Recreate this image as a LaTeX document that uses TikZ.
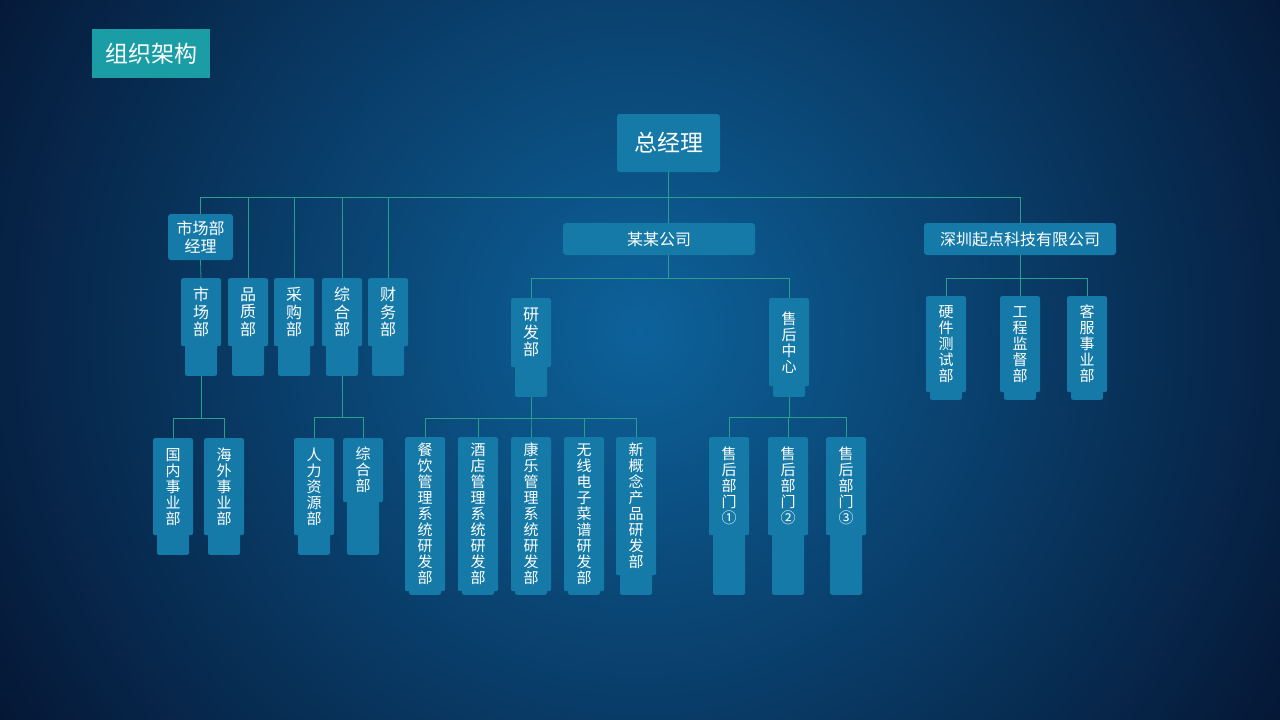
\documentclass[tikz,border=0pt]{standalone}
\usepackage{fontspec}
\setmainfont{Noto Sans CJK SC}
\usepackage{tikz}
\usetikzlibrary{positioning,calc}

\definecolor{bgin}{RGB}{13,98,155}
\definecolor{bgout}{RGB}{5,22,52}
\definecolor{boxblue}{RGB}{22,122,168}
\definecolor{titleteal}{RGB}{26,157,165}
\definecolor{linkgreen}{RGB}{42,160,140}

\tikzset{
  dept/.style={fill=boxblue, rounded corners=2pt, minimum width=40pt, inner sep=0pt,
    text=white, align=center, font=\fontsize{15}{16}\selectfont},
  big/.style={font=\fontsize{16}{17.5}\selectfont},
  foot/.style={fill=boxblue, rounded corners=2pt, minimum width=32pt, inner sep=0pt},
  hbox/.style={fill=boxblue, rounded corners=3pt, inner sep=0pt, text=white, align=center},
  link/.style={draw=linkgreen, line width=0.8pt}
}
\newcommand\deptbox[7][]{%
  \node[foot, anchor=south, minimum height=#6-#5+6] (#2-f) at (#3,#6) {};
  \node[dept, #1, anchor=north, minimum height=#5-#4] (#2) at (#3,#4) {#7};
}

\begin{document}
\begin{tikzpicture}[x=1pt,y=-1pt]
        \useasboundingbox (0,0) rectangle (1280,720);
        \fill[bgout] (0,0) rectangle (1280,720);
        \begin{scope}
          \clip (0,0) rectangle (1280,720);
          \shade[inner color=bgin, outer color=bgout] (640,330) circle (760);
        \end{scope}

        \node[fill=titleteal, minimum width=118pt, minimum height=49pt, inner sep=0pt,
          text=white, font=\fontsize{23}{23}\selectfont] (title) at (151,53.5) {组织架构};

        \node[hbox, minimum width=103pt, minimum height=58pt,
          font=\fontsize{23}{23}\selectfont] (gm) at (668.5,143) {总经理};
        \node[hbox, minimum width=65pt, minimum height=46pt,
          font=\fontsize{16}{18}\selectfont] (mgr) at (200.5,237) {市场部\\经理};
        \node[hbox, minimum width=192pt, minimum height=32pt,
          font=\fontsize{16}{16}\selectfont] (co) at (659,239) {某某公司};
        \node[hbox, minimum width=192pt, minimum height=32pt,
          font=\fontsize{16}{16}\selectfont] (sz) at (1020,239) {深圳起点科技有限公司};

        \deptbox[big]{sc}{201}{278}{346}{376}{市\\场\\部}
        \deptbox[big]{pz}{248}{278}{346}{376}{品\\质\\部}
        \deptbox[big]{cg}{294}{278}{346}{376}{采\\购\\部}
        \deptbox[big]{zh}{342}{278}{346}{376}{综\\合\\部}
        \deptbox[big]{cw}{388}{278}{346}{376}{财\\务\\部}
        \deptbox{gn}{173}{438}{535}{555}{国\\内\\事\\业\\部}
        \deptbox{hw}{224}{438}{535}{555}{海\\外\\事\\业\\部}
        \deptbox{rl}{314}{438}{535}{555}{人\\力\\资\\源\\部}
        \deptbox{zhb}{363}{438}{502}{555}{综\\合\\部}

        \deptbox[big]{rd}{531}{298}{367}{397}{研\\发\\部}
        \deptbox{sh}{789}{298}{386}{397}{售\\后\\中\\心}
        \deptbox{cy}{425}{437}{591}{595}{餐\\饮\\管\\理\\系\\统\\研\\发\\部}
        \deptbox{jd}{478}{437}{591}{595}{酒\\店\\管\\理\\系\\统\\研\\发\\部}
        \deptbox{kl}{531}{437}{591}{595}{康\\乐\\管\\理\\系\\统\\研\\发\\部}
        \deptbox{wx}{584}{437}{591}{595}{无\\线\\电\\子\\菜\\谱\\研\\发\\部}
        \deptbox{xg}{636}{437}{575}{595}{新\\概\\念\\产\\品\\研\\发\\部}
        \deptbox{sa}{729}{437}{535}{595}{售\\后\\部\\门\\①}
        \deptbox{sb}{788}{437}{535}{595}{售\\后\\部\\门\\②}
        \deptbox{sc3}{846}{437}{535}{595}{售\\后\\部\\门\\③}

        \deptbox{yj}{946}{296}{392}{400}{硬\\件\\测\\试\\部}
        \deptbox{gc}{1020}{296}{392}{400}{工\\程\\监\\督\\部}
        \deptbox{kf}{1087}{296}{392}{400}{客\\服\\事\\业\\部}

        \foreach \c in {mgr,pz,cg,zh,cw,sz}
          \draw[link] (gm.south) -- ++(0,25) -| (\c.north);
        \draw[link] (gm.south) -- (gm.south |- co.north);
        \draw[link] (mgr.south) -- (sc.north);
        \foreach \c in {rd,sh}
          \draw[link] (co.south -| gm.south) -- ++(0,23) -| (\c.north);
        \foreach \c in {gn,hw}
          \draw[link] (sc-f.south) -- ++(0,42) -| (\c.north);
        \foreach \c in {rl,zhb}
          \draw[link] (zh-f.south) -- ++(0,41) -| (\c.north);
        \foreach \c in {cy,jd,kl,wx,xg}
          \draw[link] (rd-f.south) -- ++(0,21) -| (\c.north);
        \foreach \c in {sa,sb,sc3}
          \draw[link] (sh-f.south) -- ++(0,20) -| (\c.north);
        \foreach \c in {yj,gc,kf}
          \draw[link] (sz.south) -- ++(0,23) -| (\c.north);
\end{tikzpicture}
\end{document}
